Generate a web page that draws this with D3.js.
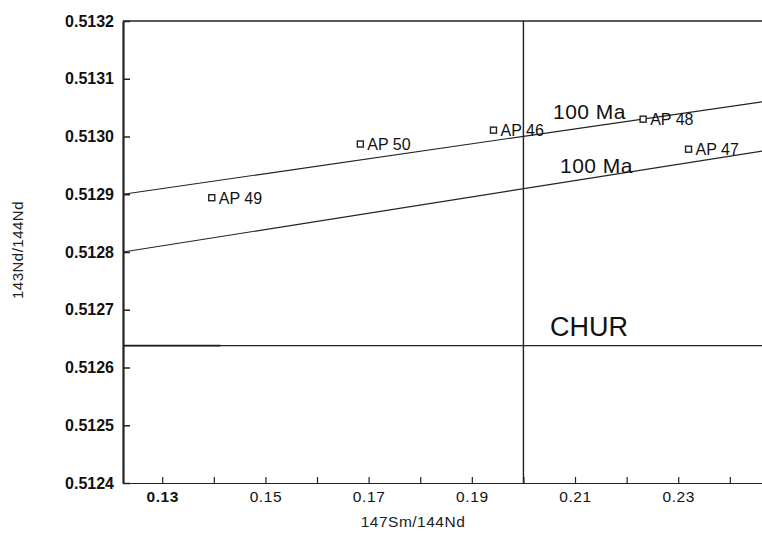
<!DOCTYPE html>
<html>
<head>
<meta charset="utf-8">
<script src="https://cdn.jsdelivr.net/npm/d3@7"></script>
<style>
  html, body { margin: 0; padding: 0; background: #fff; }
  svg { display: block; font-family: "Liberation Sans", Arial, Helvetica, sans-serif; }
</style>
</head>
<body>
<svg id="chart" width="762" height="537"></svg>
<script>
// ---- data ----
const xTicks = [0.13, 0.14, 0.15, 0.16, 0.17, 0.18, 0.19, 0.20, 0.21, 0.22, 0.23, 0.24];
const xTickLabels = ["0.13", "0.15", "0.17", "0.19", "0.21", "0.23"];
const yTicks = [0.5124, 0.5125, 0.5126, 0.5127, 0.5128, 0.5129, 0.5130, 0.5131, 0.5132];
const yTickLabels = ["0.5124", "0.5125", "0.5126", "0.5127", "0.5128", "0.5129", "0.5130", "0.5131", "0.5132"];
const sampleNames = ["AP 49", "AP 50", "AP 46", "AP 48", "AP 47"];
const sampleSmNd = [0.1396, 0.1684, 0.1942, 0.2232, 0.2320];
const sampleNdNd = [0.512894, 0.512987, 0.513011, 0.513030, 0.512978];
const isochronX = [0.1224, 0.2500];
const isochronUpper = [0.51290, 0.513065];
const isochronLower = [0.51280, 0.512980];
const isochronLabels = ["100 Ma", "100 Ma"];
const churValue = 0.512638;
const refSmNd = 0.20;

// ---- layout ----
const svg = d3.select("#chart");
const mLeft = 123, mTop = 21, mBottom = 483;
const x = d3.scaleLinear().domain([0.1224, 0.25]).range([mLeft, mLeft + 0.1276 * 5160]);
const y = d3.scaleLinear().domain([0.5124, 0.5132]).range([mBottom, mTop]);
const ink = "#222";

// top border
svg.append("line").attr("x1", mLeft).attr("x2", 762).attr("y1", y(0.5132)).attr("y2", y(0.5132))
  .attr("stroke", ink).attr("stroke-width", 1.5);

// x axis (ticks pointing inward/up)
const xAxis = d3.axisBottom(x).tickValues(xTicks).tickSizeInner(-6).tickSizeOuter(0)
  .tickFormat(d => { const s = d3.format(".2f")(d); return xTickLabels.includes(s) ? s : ""; });
const gx = svg.append("g").attr("transform", `translate(0,${mBottom})`).call(xAxis);
gx.select(".domain").attr("stroke", ink).attr("stroke-width", 1.2).attr("d", `M${mLeft},0.5H762`);
gx.selectAll(".tick line").attr("stroke", ink).attr("stroke-width", 1.2);
gx.selectAll(".tick text").attr("fill", "#111").attr("font-size", 15.5).attr("y", 8)
  .attr("letter-spacing", "0.6px")
  .attr("font-weight", d => d3.format(".2f")(d) === "0.13" ? "bold" : "normal");

// y axis (ticks pointing inward/right)
const yAxis = d3.axisLeft(y).tickValues(yTicks).tickSizeInner(-7).tickSizeOuter(0)
  .tickFormat((d, i) => yTickLabels[i]);
const gy = svg.append("g").attr("transform", `translate(${mLeft},0)`).call(yAxis);
gy.select(".domain").attr("stroke", ink).attr("stroke-width", 2.2);
gy.selectAll(".tick line").attr("stroke", ink).attr("stroke-width", 1.5);
gy.selectAll(".tick text").attr("fill", "#111").attr("font-size", 16).attr("font-weight", "bold")
  .attr("x", -9);

// axis titles
svg.append("text").attr("x", 413).attr("y", 527).attr("text-anchor", "middle")
  .attr("font-size", 15.5).attr("fill", "#222").attr("letter-spacing", "0.5px").text("147Sm/144Nd");
svg.append("text").attr("transform", "translate(19,250) rotate(-90)").attr("text-anchor", "middle")
  .attr("dominant-baseline", "middle")
  .attr("font-size", 15).attr("fill", "#222").attr("letter-spacing", "0.5px").text("143Nd/144Nd");

// vertical reference line at 0.20
svg.append("line").attr("x1", x(refSmNd)).attr("x2", x(refSmNd)).attr("y1", y(0.5132)).attr("y2", mBottom)
  .attr("stroke", ink).attr("stroke-width", 1.4);

// CHUR line
svg.append("line").attr("x1", mLeft).attr("x2", 762).attr("y1", y(churValue)).attr("y2", y(churValue))
  .attr("stroke", ink).attr("stroke-width", 1.2);
svg.append("line").attr("x1", mLeft).attr("x2", x(0.1413)).attr("y1", y(churValue)).attr("y2", y(churValue))
  .attr("stroke", ink).attr("stroke-width", 1.8);
svg.append("text").attr("x", 550).attr("y", y(churValue) - 10).attr("font-size", 27).attr("fill", "#111")
  .text("CHUR");

// isochrons
const lineGen = d3.line().x(d => x(d[0])).y(d => y(d[1]));
[isochronUpper, isochronLower].forEach(vals => {
  svg.append("path").attr("d", lineGen(isochronX.map((xx, i) => [xx, vals[i]])))
    .attr("fill", "none").attr("stroke", ink).attr("stroke-width", 1.2);
});
svg.append("text").attr("x", 553).attr("y", 119).attr("font-size", 21).attr("fill", "#111")
  .attr("letter-spacing", "0.5px").text(isochronLabels[0]);
svg.append("text").attr("x", 560).attr("y", 173).attr("font-size", 21).attr("fill", "#111")
  .attr("letter-spacing", "0.5px").text(isochronLabels[1]);

// samples
const samples = sampleNames.map((n, i) => ({ name: n, sx: sampleSmNd[i], sy: sampleNdNd[i] }));
const g = svg.append("g").selectAll("g").data(samples).join("g")
  .attr("transform", d => `translate(${x(d.sx)},${y(d.sy)})`);
g.append("rect").attr("x", -3).attr("y", -3).attr("width", 6).attr("height", 6)
  .attr("fill", "#fff").attr("stroke", ink).attr("stroke-width", 1.4);
g.append("text").attr("x", 7).attr("y", 6).attr("font-size", 16).attr("fill", "#111")
  .text(d => d.name);
</script>
</body>
</html>
